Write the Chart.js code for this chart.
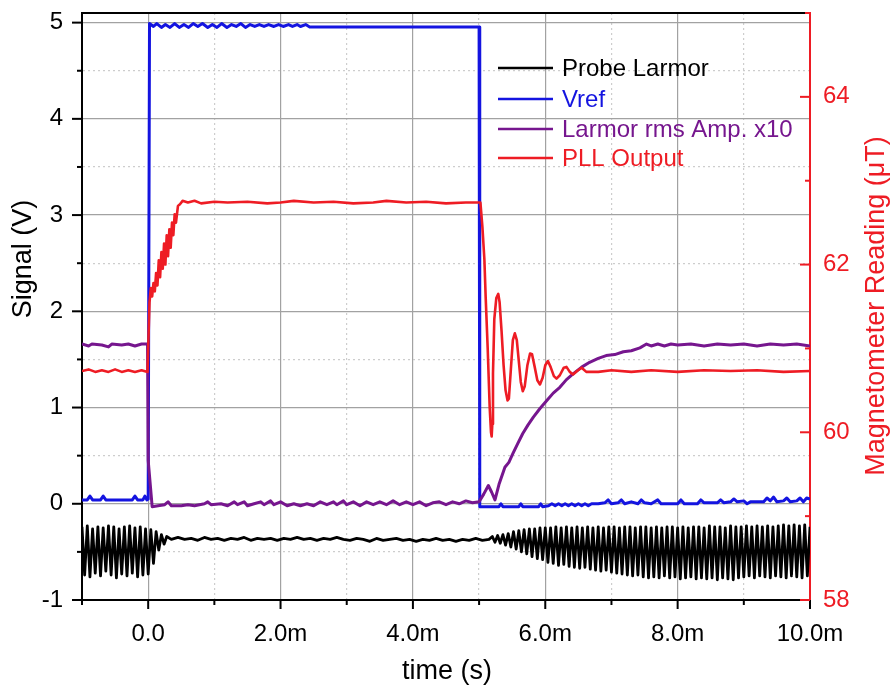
<!DOCTYPE html>
<html>
<head>
<meta charset="utf-8">
<script src="https://cdn.jsdelivr.net/npm/chart.js@4/dist/chart.umd.min.js"></script>
<style>
  html, body { margin: 0; padding: 0; background: #fff; }
  canvas { display: block; }
</style>
</head>
<body>
<canvas id="chart" width="892" height="690"></canvas>
<script>
// time in ms, signals in V (left axis), PLL output in uT (right axis)
const probeLarmor = [
  [-1.00,-0.24],[-0.96,-0.74],[-0.92,-0.23],[-0.88,-0.76],[-0.84,-0.26],[-0.80,-0.72],
  [-0.76,-0.24],[-0.72,-0.75],[-0.68,-0.25],[-0.64,-0.70],[-0.60,-0.23],[-0.56,-0.74],
  [-0.52,-0.24],[-0.48,-0.77],[-0.44,-0.26],[-0.40,-0.73],[-0.36,-0.24],[-0.32,-0.75],
  [-0.28,-0.23],[-0.24,-0.72],[-0.20,-0.25],[-0.16,-0.76],[-0.12,-0.24],[-0.08,-0.74],
  [-0.04,-0.26],[0.00,-0.73],[0.04,-0.27],[0.08,-0.62],[0.12,-0.29],[0.16,-0.48],
  [0.20,-0.32],[0.24,-0.42],[0.28,-0.34],
  [0.35,-0.37],[0.45,-0.35],[0.55,-0.37],[0.65,-0.36],[0.75,-0.38],[0.85,-0.35],
  [0.95,-0.37],[1.05,-0.36],[1.15,-0.38],[1.25,-0.36],[1.35,-0.37],[1.45,-0.35],
  [1.55,-0.38],[1.65,-0.36],[1.75,-0.37],[1.85,-0.36],[1.95,-0.38],[2.05,-0.36],
  [2.15,-0.37],[2.25,-0.35],[2.35,-0.37],[2.45,-0.36],[2.55,-0.38],[2.65,-0.36],
  [2.75,-0.37],[2.85,-0.35],[2.95,-0.37],[3.05,-0.38],[3.15,-0.36],[3.25,-0.37],
  [3.35,-0.39],[3.45,-0.36],[3.55,-0.38],[3.65,-0.37],[3.75,-0.36],[3.85,-0.38],
  [3.95,-0.37],[4.05,-0.39],[4.15,-0.37],[4.25,-0.38],[4.35,-0.36],[4.45,-0.38],
  [4.55,-0.37],[4.65,-0.39],[4.75,-0.37],[4.85,-0.38],[4.95,-0.36],[5.05,-0.38],
  [5.15,-0.37],
  [5.20,-0.34],[5.24,-0.40],[5.28,-0.33],[5.32,-0.41],[5.36,-0.32],[5.40,-0.43],
  [5.44,-0.31],[5.48,-0.45],[5.52,-0.29],[5.56,-0.47],[5.60,-0.28],[5.64,-0.50],
  [5.68,-0.27],[5.72,-0.52],[5.76,-0.26],[5.80,-0.55],[5.84,-0.26],[5.88,-0.57],
  [5.92,-0.25],[5.96,-0.58],[6.00,-0.25],[6.04,-0.61],[6.08,-0.25],[6.12,-0.62],
  [6.16,-0.24],[6.20,-0.64],[6.24,-0.25],[6.28,-0.63],[6.32,-0.24],[6.36,-0.65],
  [6.40,-0.25],[6.44,-0.66],[6.48,-0.24],[6.52,-0.67],[6.56,-0.25],[6.60,-0.66],
  [6.64,-0.24],[6.68,-0.68],[6.72,-0.25],[6.76,-0.69],[6.80,-0.24],[6.84,-0.70],
  [6.88,-0.25],[6.92,-0.69],[6.96,-0.24],[7.00,-0.71],[7.04,-0.24],[7.08,-0.72],
  [7.12,-0.25],[7.16,-0.73],[7.20,-0.24],[7.24,-0.74],[7.28,-0.24],[7.32,-0.75],
  [7.36,-0.25],[7.40,-0.74],[7.44,-0.24],[7.48,-0.76],[7.52,-0.24],[7.56,-0.77],
  [7.60,-0.25],[7.64,-0.76],[7.68,-0.24],[7.72,-0.77],[7.76,-0.25],[7.80,-0.75],
  [7.84,-0.24],[7.88,-0.77],[7.92,-0.24],[7.96,-0.76],[8.00,-0.25],[8.04,-0.78],
  [8.08,-0.24],[8.12,-0.77],[8.16,-0.25],[8.20,-0.76],[8.24,-0.24],[8.28,-0.78],
  [8.32,-0.24],[8.36,-0.77],[8.40,-0.25],[8.44,-0.78],[8.48,-0.23],[8.52,-0.77],
  [8.56,-0.24],[8.60,-0.79],[8.64,-0.24],[8.68,-0.77],[8.72,-0.25],[8.76,-0.78],
  [8.80,-0.23],[8.84,-0.79],[8.88,-0.24],[8.92,-0.77],[8.96,-0.24],[9.00,-0.76],
  [9.04,-0.23],[9.08,-0.75],[9.12,-0.24],[9.16,-0.77],[9.20,-0.23],[9.24,-0.75],
  [9.28,-0.24],[9.32,-0.76],[9.36,-0.23],[9.40,-0.77],[9.44,-0.24],[9.48,-0.75],
  [9.52,-0.23],[9.56,-0.76],[9.60,-0.22],[9.64,-0.77],[9.68,-0.23],[9.72,-0.75],
  [9.76,-0.22],[9.80,-0.76],[9.84,-0.23],[9.88,-0.77],[9.92,-0.22],[9.96,-0.75],
  [10.00,-0.24]
];

const vref = [
  [-1.00,0.04],[-0.92,0.04],[-0.88,0.08],[-0.84,0.04],[-0.72,0.04],[-0.68,0.08],
  [-0.64,0.04],[-0.24,0.04],[-0.20,0.08],[-0.16,0.04],[-0.08,0.04],[-0.05,0.08],
  [-0.02,0.04],[0.00,0.05],[0.02,4.99],[0.08,4.96],[0.13,4.99],[0.20,4.95],
  [0.26,4.98],[0.33,4.95],[0.40,4.99],[0.47,4.95],[0.54,4.98],[0.61,4.95],
  [0.68,4.99],[0.75,4.96],[0.82,4.99],[0.90,4.95],[0.97,4.98],[1.04,4.95],
  [1.11,4.99],[1.19,4.95],[1.26,4.98],[1.33,4.96],[1.40,4.99],[1.47,4.95],
  [1.54,4.98],[1.61,4.96],[1.68,4.98],[1.75,4.96],[1.82,4.98],[1.90,4.96],
  [1.97,4.98],[2.04,4.96],[2.12,4.98],[2.18,4.96],[2.25,4.98],[2.30,4.96],
  [2.38,4.98],[2.44,4.955],[5.00,4.955],[5.01,-0.03],
  [5.30,-0.03],[5.33,0.00],[5.36,-0.03],[5.60,-0.03],[5.63,0.00],[5.66,-0.03],
  [5.90,-0.03],[5.93,0.00],[5.96,-0.03],[6.05,-0.02],[6.10,0.00],[6.15,-0.02],
  [6.20,0.00],[6.25,-0.02],[6.30,0.00],[6.35,-0.02],[6.40,0.00],[6.45,-0.02],
  [6.50,0.00],[6.55,-0.02],[6.60,0.00],[6.65,-0.02],[6.70,0.00],[6.80,0.00],
  [6.90,0.01],[6.95,0.04],[7.00,0.00],[7.10,0.01],[7.15,0.04],[7.20,0.00],
  [7.30,0.02],[7.40,0.00],[7.45,0.04],[7.50,0.01],[7.60,0.00],[7.70,0.04],
  [7.75,0.00],[8.00,0.00],[8.05,0.04],[8.10,0.00],[8.30,0.00],[8.35,0.04],
  [8.40,0.01],[8.60,0.01],[8.65,0.04],[8.70,0.01],[8.80,0.02],[8.85,0.05],
  [8.90,0.02],[9.00,0.03],[9.05,0.00],[9.10,0.02],[9.30,0.02],[9.35,0.06],
  [9.40,0.03],[9.45,0.07],[9.50,0.02],[9.60,0.03],[9.65,0.06],[9.70,0.02],
  [9.80,0.03],[9.85,0.06],[9.90,0.02],[9.95,0.06],[10.00,0.05]
];

const larmorRms = [
  [-1.00,1.66],[-0.90,1.64],[-0.85,1.66],[-0.70,1.65],[-0.60,1.63],[-0.55,1.66],
  [-0.40,1.65],[-0.30,1.66],[-0.20,1.64],[-0.10,1.66],[-0.01,1.66],[0.00,0.45],
  [0.06,-0.03],[0.15,-0.02],[0.25,-0.01],[0.30,0.02],[0.35,-0.02],[0.50,-0.02],
  [0.60,-0.01],[0.70,-0.02],[0.85,0.00],[0.90,0.02],[0.95,-0.01],[1.10,0.00],
  [1.20,-0.02],[1.30,0.02],[1.35,-0.01],[1.45,0.02],[1.50,-0.02],[1.60,0.00],
  [1.70,0.02],[1.75,-0.01],[1.85,0.03],[1.90,-0.01],[2.00,0.02],[2.10,-0.02],
  [2.20,0.00],[2.30,-0.02],[2.40,0.00],[2.50,-0.02],[2.60,0.02],[2.70,-0.01],
  [2.80,0.02],[2.85,-0.01],[2.95,0.03],[3.00,-0.01],[3.10,0.02],[3.20,-0.02],
  [3.30,0.02],[3.40,-0.01],[3.50,0.02],[3.60,-0.01],[3.70,0.03],[3.80,-0.01],
  [3.90,0.02],[4.00,-0.01],[4.10,0.02],[4.20,-0.02],[4.30,0.01],[4.40,0.02],
  [4.50,-0.01],[4.60,0.02],[4.70,0.00],[4.80,0.03],[4.90,0.01],[5.00,0.02],
  [5.07,0.10],[5.14,0.19],[5.19,0.12],[5.24,0.04],[5.30,0.20],[5.39,0.38],
  [5.45,0.43],[5.51,0.52],[5.58,0.62],[5.66,0.73],[5.74,0.82],[5.82,0.90],
  [5.92,0.99],[6.02,1.07],[6.12,1.15],[6.22,1.21],[6.32,1.29],[6.42,1.35],
  [6.55,1.42],[6.67,1.47],[6.80,1.51],[6.92,1.54],[7.05,1.55],[7.18,1.58],
  [7.30,1.59],[7.43,1.62],[7.53,1.66],[7.60,1.64],[7.70,1.66],[7.80,1.64],
  [7.90,1.66],[8.00,1.65],[8.20,1.66],[8.40,1.64],[8.60,1.66],[8.80,1.65],
  [9.00,1.66],[9.20,1.64],[9.40,1.66],[9.60,1.65],[9.80,1.66],[10.00,1.64]
];

const pllOutput = [
  [-1.00,60.73],[-0.90,60.75],[-0.80,60.72],[-0.70,60.74],[-0.60,60.72],[-0.50,60.75],
  [-0.40,60.72],[-0.30,60.74],[-0.20,60.72],[-0.10,60.74],[-0.01,60.72],[0.02,61.55],
  [0.04,61.72],[0.06,61.62],[0.08,61.78],[0.10,61.68],[0.12,61.90],[0.14,61.75],
  [0.16,62.05],[0.18,61.85],[0.20,62.15],[0.22,61.95],[0.24,62.25],[0.26,62.00],
  [0.28,62.35],[0.30,62.10],[0.32,62.42],[0.34,62.20],[0.36,62.50],[0.38,62.35],
  [0.40,62.60],[0.42,62.50],[0.45,62.70],[0.48,62.72],[0.52,62.76],
  [0.60,62.74],[0.70,62.76],[0.80,62.73],[1.00,62.75],
  [1.20,62.74],[1.50,62.75],[1.80,62.73],[2.00,62.74],[2.20,62.76],[2.50,62.74],
  [2.80,62.75],[3.10,62.73],[3.40,62.74],[3.60,62.76],[3.90,62.74],[4.20,62.75],
  [4.50,62.73],[4.80,62.74],[5.02,62.74],[5.05,62.45],[5.08,62.06],[5.10,61.60],
  [5.13,61.00],[5.16,60.30],[5.18,60.00],[5.19,59.95],[5.20,60.10],[5.21,60.70],
  [5.23,61.35],[5.26,61.60],[5.29,61.65],[5.31,61.55],[5.34,61.20],[5.37,60.80],
  [5.40,60.50],[5.43,60.38],[5.45,60.40],[5.48,60.75],[5.51,61.10],[5.54,61.18],
  [5.57,61.10],[5.60,60.85],[5.63,60.60],[5.66,60.49],[5.69,60.55],[5.73,60.80],
  [5.77,60.94],[5.80,60.93],[5.84,60.78],[5.88,60.62],[5.92,60.57],[5.96,60.65],
  [6.00,60.80],[6.04,60.85],[6.08,60.78],[6.13,60.67],[6.17,60.64],[6.22,60.68],
  [6.28,60.77],[6.32,60.78],[6.37,60.72],[6.42,60.69],[6.48,60.73],[6.55,60.77],
  [6.62,60.72],[6.80,60.72],[7.00,60.74],[7.30,60.72],[7.60,60.74],[8.00,60.72],
  [8.40,60.74],[8.80,60.73],[9.20,60.74],[9.60,60.72],[10.00,60.73]
];

const legendLabels = ["Probe Larmor", "Vref", "Larmor rms Amp. x10", "PLL Output"];
const seriesColors = ["#000000", "#1414e0", "#76168e", "#ee1c24"];

const FONT = "'Liberation Sans', Arial, sans-serif";
Chart.defaults.font.family = FONT;
Chart.defaults.color = "#000";

function toPoints(pairs) {
  return pairs.map((p) => ({ x: p[0], y: p[1] }));
}

const isInt = (v) => Math.abs(v - Math.round(v)) < 1e-6;

// axis ticks, top frame, legend and axis titles
const decorPlugin = {
  id: "decor",
  afterDraw(chart) {
    const ctx = chart.ctx;
    const a = chart.chartArea;
    const sx = chart.scales.x, sy = chart.scales.y, sy2 = chart.scales.y2;
    ctx.save();
    ctx.lineCap = "butt";

    // top frame line
    ctx.strokeStyle = "#000";
    ctx.lineWidth = 2;
    ctx.beginPath();
    ctx.moveTo(a.left - 1, a.top);
    ctx.lineTo(a.right, a.top);
    ctx.stroke();

    // x ticks (outward)
    sx.ticks.forEach((t) => {
      const px = sx.getPixelForValue(t.value);
      const len = Math.round(t.value) % 2 === 0 ? 9 : 5;
      ctx.beginPath();
      ctx.moveTo(px, a.bottom);
      ctx.lineTo(px, a.bottom + len);
      ctx.stroke();
    });
    // left y ticks (outward)
    sy.ticks.forEach((t) => {
      const py = sy.getPixelForValue(t.value);
      const len = isInt(t.value) ? 10 : 5;
      ctx.beginPath();
      ctx.moveTo(a.left - len, py);
      ctx.lineTo(a.left, py);
      ctx.stroke();
    });
    // right y ticks (inward, red)
    ctx.strokeStyle = seriesColors[3];
    sy2.ticks.forEach((t) => {
      const py = sy2.getPixelForValue(t.value);
      const len = Math.round(t.value) % 2 === 0 ? 10 : 5;
      ctx.beginPath();
      ctx.moveTo(a.right - len, py);
      ctx.lineTo(a.right, py);
      ctx.stroke();
    });

    // legend
    ctx.font = "24px " + FONT;
    ctx.textBaseline = "middle";
    ctx.textAlign = "left";
    const rowY = [68, 99, 129, 158];
    legendLabels.forEach((lab, i) => {
      ctx.strokeStyle = seriesColors[i];
      ctx.lineWidth = 2.5;
      ctx.beginPath();
      ctx.moveTo(498, rowY[i]);
      ctx.lineTo(553, rowY[i]);
      ctx.stroke();
      ctx.fillStyle = seriesColors[i];
      ctx.fillText(lab, 562, rowY[i] + 1);
    });

    // axis titles
    ctx.font = "27px " + FONT;
    ctx.textAlign = "center";
    ctx.fillStyle = "#000";
    ctx.fillText("time (s)", 447, 672);

    ctx.save();
    ctx.translate(24, 259);
    ctx.rotate(-Math.PI / 2);
    ctx.fillText("Signal (V)", 0, 0);
    ctx.restore();

    ctx.save();
    ctx.translate(877, 306);
    ctx.rotate(-Math.PI / 2);
    ctx.fillStyle = seriesColors[3];
    ctx.fillText("Magnetometer Reading (\u03bcT)", 0, 0);
    ctx.restore();

    ctx.restore();
  },
};

const gridColor = (ctx, solidTest) =>
  ctx.tick && solidTest(ctx.tick.value) ? "#a2a2a2" : "#cdcdcd";
const gridDash = (ctx, solidTest) =>
  ctx.tick && !solidTest(ctx.tick.value) ? [2, 3] : [];
const xSolid = (v) => Math.round(v) % 2 === 0;

// fixed axis sizes so the plot box sits where the reference has it
function fitY(s) {
  s.width = 82;
  s.paddingTop = 0;
  s.paddingBottom = 0;
}
function fitX(s) {
  s.height = 90;
  s.paddingLeft = 0;
  s.paddingRight = 0;
}

new Chart(document.getElementById("chart"), {
  type: "line",
  data: {
    datasets: [
      {
        label: legendLabels[0],
        data: toPoints(probeLarmor),
        borderColor: seriesColors[0],
        borderWidth: 2.8,
        yAxisID: "y",
        order: 4,
      },
      {
        label: legendLabels[1],
        data: toPoints(vref),
        borderColor: seriesColors[1],
        borderWidth: 3,
        yAxisID: "y",
        order: 3,
      },
      {
        label: legendLabels[2],
        data: toPoints(larmorRms),
        borderColor: seriesColors[2],
        borderWidth: 3,
        yAxisID: "y",
        order: 2,
      },
      {
        label: legendLabels[3],
        data: toPoints(pllOutput),
        borderColor: seriesColors[3],
        borderWidth: 2.6,
        yAxisID: "y2",
        order: 1,
      },
    ],
  },
  options: {
    responsive: false,
    animation: false,
    layout: { padding: { top: 13, left: 0, right: 0, bottom: 0 } },
    elements: {
      point: { radius: 0 },
      line: { tension: 0, borderJoinStyle: "round" },
    },
    plugins: {
      legend: { display: false },
      tooltip: { enabled: false },
    },
    scales: {
      x: {
        type: "linear",
        min: -1,
        max: 10,
        afterFit: fitX,
        ticks: {
          stepSize: 1,
          autoSkip: false,
          maxRotation: 0,
          padding: 20,
          color: "#000",
          font: { size: 24 },
          callback: (v) => (Math.round(v) % 2 === 0 ? (v === 0 ? "0.0" : v.toFixed(1) + "m") : ""),
        },
        grid: {
          drawTicks: false,
          lineWidth: 1.2,
          color: (c) => gridColor(c, xSolid),
        },
        border: {
          color: "#000",
          width: 2,
          dash: (c) => gridDash(c, xSolid),
        },
      },
      y: {
        position: "left",
        min: -1,
        max: 5.1,
        afterFit: fitY,
        ticks: {
          stepSize: 0.5,
          includeBounds: false,
          autoSkip: false,
          padding: 19,
          color: "#000",
          font: { size: 24 },
          callback: (v) => (isInt(v) ? String(Math.round(v)) : ""),
        },
        grid: {
          drawTicks: false,
          lineWidth: 1.2,
          color: (c) => gridColor(c, isInt),
        },
        border: {
          color: "#000",
          width: 2,
          dash: (c) => gridDash(c, isInt),
        },
      },
      y2: {
        position: "right",
        min: 58,
        max: 65,
        afterFit: fitY,
        ticks: {
          stepSize: 1,
          autoSkip: false,
          padding: 13,
          color: seriesColors[3],
          font: { size: 24 },
          callback: (v) => (Math.round(v) % 2 === 0 ? String(Math.round(v)) : ""),
        },
        grid: { drawOnChartArea: false, drawTicks: false },
        border: { color: seriesColors[3], width: 2 },
      },
    },
  },
  plugins: [decorPlugin],
});
</script>
</body>
</html>
